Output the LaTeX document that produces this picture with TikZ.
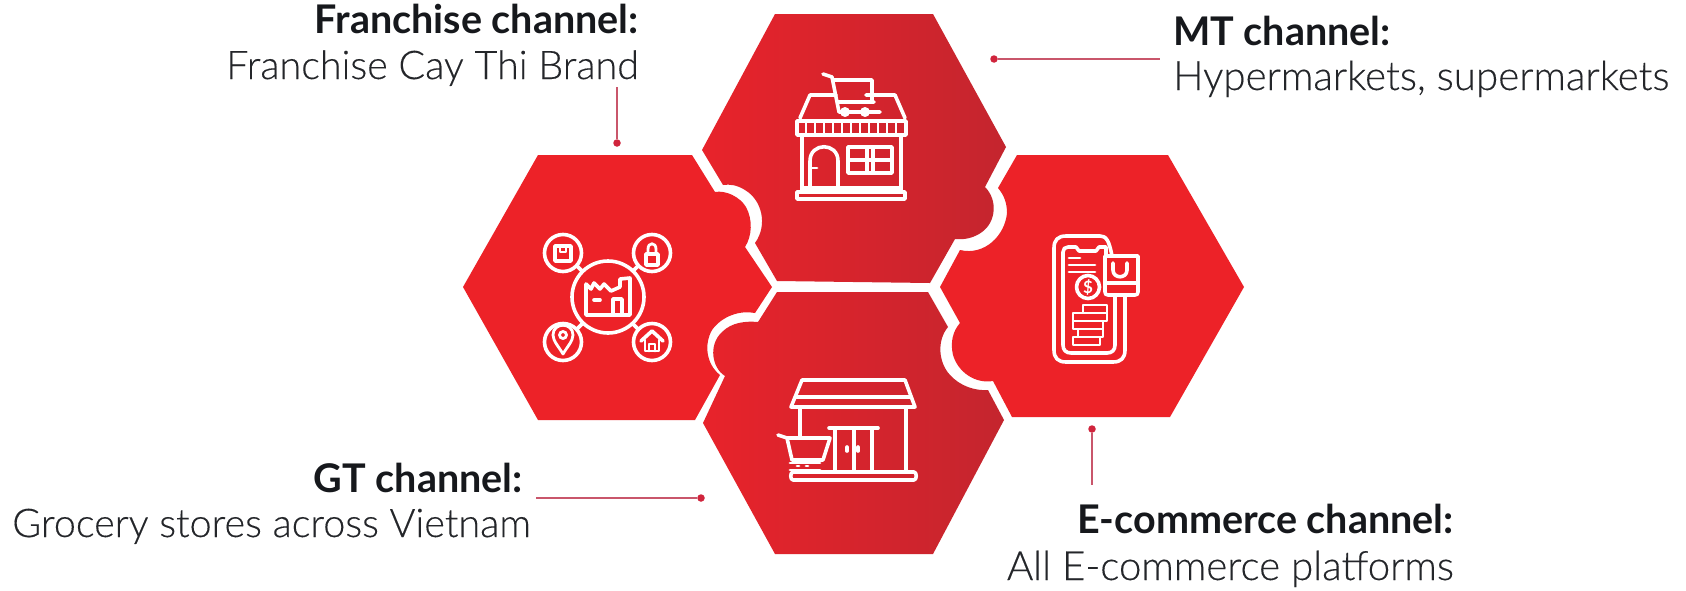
\documentclass[tikz,border=0pt]{standalone}
\usepackage{fontspec}
\setmainfont{Lato}
\newfontfamily\lightfont[FakeBold=0.25]{Lato Light}
\definecolor{hexred}{HTML}{ED2228}
\definecolor{gradl}{HTML}{E8232B}
\definecolor{gradr}{HTML}{C4252E}
\definecolor{leader}{HTML}{C9566B}
\definecolor{dotred}{HTML}{D0243C}
\definecolor{ink}{HTML}{16181C}
\definecolor{inkb}{HTML}{24262A}
\tikzset{
  flat/.style={fill=hexred},
  grad/.style={left color=gradl,right color=gradr,shading angle=90},
  ico/.style={draw=white,line width=3.6pt,line join=round,line cap=round,fill=none},
  icothin/.style={draw=white,line width=2.8pt,line join=round,line cap=round,fill=none},
  head/.style={font=\fontsize{39.5}{39.5}\selectfont\bfseries,text=ink,inner sep=0pt},
  body/.style={font=\fontsize{39.5}{39.5}\lightfont,text=inkb,inner sep=0pt},
  bodywide/.style={font=\fontsize{40.3}{40.3}\lightfont,text=inkb,inner sep=0pt},
  dotn/.style={circle,fill=dotred,minimum size=7.5pt,inner sep=0pt},
  lead/.style={draw=leader,line width=1.5pt}
}
\begin{document}
\begin{tikzpicture}[x=1pt,y=-1pt]
\useasboundingbox (0,0) rectangle (1686,590);
\fill[white] (0,0) rectangle (1686,590);

% top hexagon
\shade[grad] (775,14) -- (933,14) -- (1006,147) -- (985,187)
  .. controls (998,200) and (996,222) .. (982,232)
  .. controls (974,238) and (964,240) .. (955,239)
  -- (930,283) -- (777,281) -- (755,243)
  .. controls (768,225) and (762,200) .. (745,190)
  .. controls (737,185) and (730,184) .. (723,185)
  -- (702,150) -- cycle;
% bottom hexagon
\shade[grad] (777,292) -- (928,292) -- (948,327)
  .. controls (937,340) and (938,362) .. (950,375)
  .. controls (960,386) and (975,391) .. (988,390)
  -- (1004,420) -- (933,554) -- (775,554) -- (703,423) -- (725,376)
  .. controls (712,368) and (708,345) .. (722,332)
  .. controls (732,322) and (746,321) .. (758,322)
  -- cycle;
% left hexagon
\fill[flat] (538,155) -- (692,155) -- (715,192)
  .. controls (726,190) and (740,197) .. (746,207)
  .. controls (753,220) and (752,236) .. (745,247)
  -- (772,287) -- (755,313)
  .. controls (740,310) and (722,316) .. (712,330)
  .. controls (704,344) and (706,364) .. (720,375)
  -- (695,420) -- (538,420) -- (463,287) -- cycle;
% right hexagon
\fill[flat] (1017,155) -- (1168,155) -- (1244,287) -- (1170,417) -- (1012,417) -- (993,381)
  .. controls (975,384) and (958,372) .. (953,355)
  .. controls (950,342) and (953,331) .. (960,323)
  -- (940,287) -- (960,250)
  .. controls (985,256) and (1005,235) .. (1007,213)
  .. controls (1007,203) and (1004,195) .. (998,188)
  -- cycle;

% factory icon
\draw[ico] (608,297) circle (36);
\foreach \cx/\cy in {563/253,652/253,563/342,652/342}{\draw[ico] (\cx,\cy) circle (18.5);}
\draw[ico] (577,266) -- (582,271) (638,266) -- (633,271) (577,329) -- (582,324) (638,329) -- (633,324);
\draw[ico] (586,315) -- (586,284) -- (591,289) -- (594,283) -- (600,289) -- (604,284) -- (611,291) -- (620,287) -- (620,279) -- (630,278) -- (630,315) -- cycle;
\draw[ico] (594,300) -- (600,300) (613,315) -- (613,299) -- (622,299) -- (622,315);
\draw[ico] (555,246) -- (555,261) -- (571,261) -- (571,246) -- cycle;
\draw[icothin] (560,247) -- (560,252) -- (566,252) -- (566,247);
\draw[ico] (646,254) rectangle (658,265);
\draw[icothin] (648,254) -- (648,249) .. controls (648,242) and (656,242) .. (656,249) -- (656,254);
\draw[icothin] (563,354) .. controls (559,347) and (553,341) .. (553,335) .. controls (553,322) and (573,322) .. (573,335) .. controls (573,341) and (567,347) .. (563,354) -- cycle;
\draw[icothin] (563,335) circle (3.5);
\draw[ico] (641,341) -- (652,331) -- (663,341);
\draw[icothin] (645,340) -- (645,351) -- (659,351) -- (659,340) (649,351) -- (649,344) -- (655,344) -- (655,351);

% store icon (top)
\draw[ico] (800,118) -- (810,95) -- (836,95) (866,95) -- (895,95) -- (905,118);
\draw[ico] (797,121) -- (906,121) -- (906,135) -- (797,135) -- cycle;
\foreach \sx in {806,815,824,833,842,851,860,869,878,887,896}{\draw[icothin] (\sx,122) -- (\sx,134);}
\draw[ico] (802,135) -- (802,192) (901,135) -- (901,192);
\draw[ico] (797,192) rectangle (905,199) (802,188) -- (901,188);
\draw[ico] (810,188) -- (810,161) .. controls (810,142) and (838,142) .. (838,161) -- (838,188);
\draw[icothin] (811,168) -- (817,168);
\draw[ico] (848,147) rectangle (892,173) (848,160) -- (892,160) (867,147) -- (867,173) (873,147) -- (873,173);
\draw[ico] (823,74) -- (832,77) -- (839,112) -- (880,112) (833,80) -- (872,80) -- (872,102) (837,102) -- (874,102);
\draw[icothin] (845,112) circle (3.5) (865,112) circle (3.5);

% phone icon
\draw[ico] (1112,256) .. controls (1109,240) and (1106,236) .. (1100,236) -- (1066,236) .. controls (1058,236) and (1054,240) .. (1054,248) -- (1054,350) .. controls (1054,358) and (1058,362) .. (1066,362) -- (1113,362) .. controls (1121,362) and (1125,358) .. (1125,350) -- (1125,295);
\draw[ico] (1115,295) -- (1115,345) .. controls (1115,350) and (1112,353) .. (1107,353) -- (1071,353) .. controls (1066,353) and (1063,350) .. (1063,345) -- (1063,252) .. controls (1063,249) and (1065,247) .. (1068,247) -- (1076,247) -- (1079,251) -- (1096,251) -- (1099,247) -- (1106,247) -- (1106,256);
\draw[ico] (1105,256) -- (1138,256) -- (1138,292) .. controls (1138,294) and (1137,295) .. (1135,295) -- (1108,295) .. controls (1106,295) and (1105,294) .. (1105,292) -- cycle (1105,283) -- (1138,283);
\draw[ico] (1113,263) -- (1113,270) .. controls (1113,279) and (1127,279) .. (1127,270) -- (1127,263);
\draw[icothin] (1069,258) -- (1080,258) (1069,265) -- (1095,265) (1069,272) -- (1095,272);
\draw[ico] (1088,287) circle (11.5);
\node[font=\fontsize{17}{17}\selectfont\bfseries,text=white,inner sep=0pt] (dollar) at (1088,287) {\$};
\draw[icothin] (1083,305) rectangle (1107,313) (1073,313) rectangle (1107,321) (1073,321) rectangle (1103,329) (1078,329) rectangle (1103,337) (1073,337) rectangle (1100,345);

% grocery icon (bottom)
\draw[ico] (802,380) -- (905,380) -- (915,407) -- (791,407) -- cycle (795,397) -- (911,397);
\draw[ico] (800,407) -- (800,437) (906,407) -- (906,472);
\draw[ico] (793,472) -- (914,472) .. controls (917,472) and (917,480) .. (914,480) -- (793,480) .. controls (790,480) and (790,472) .. (793,472) -- cycle;
\draw[ico] (829,428) -- (878,428) (835,428) -- (835,472) (854,428) -- (854,472) (872,428) -- (872,472);
\draw[ico] (847,447) -- (847,451) (858,447) -- (858,451);
\draw[ico] (778,435) -- (787,438) -- (830,438) -- (823,460) -- (792,460) -- (787,438);
\draw[icothin] (790,463) -- (820,463) (790,470) -- (820,470) (797,466) -- (799,466) (806,466) -- (808,466);

% labels
\node[head,anchor=base east] (fh) at (639,33) {Franchise channel:};
\node[body,anchor=base east] (fb) at (639,79) {Franchise Cay Thi Brand};
\node[head,anchor=base west] (mh) at (1173,45) {MT channel:};
\node[bodywide,anchor=base west] (mb) at (1173,90) {Hypermarkets, supermarkets};
\node[head,anchor=base east] (gh) at (523,492) {GT channel:};
\node[body,anchor=base east] (gb) at (531,537) {Grocery stores across Vietnam};
\node[head,anchor=base east] (eh) at (1454,533) {E-commerce channel:};
\node[bodywide,anchor=base east] (eb) at (1454,580) {All E-commerce platforms};

% leaders
\node[dotn] (fd) at (617,143) {};
\node[dotn] (md) at (994,59) {};
\node[dotn] (gd) at (701,498) {};
\node[dotn] (ed) at (1092,429) {};
\coordinate (fe) at (617,87);
\coordinate (me) at (1160,59);
\coordinate (ge) at (536,498);
\coordinate (ee) at (1092,485);
\draw[lead] (fd) -- (fe);
\draw[lead] (md) -- (me);
\draw[lead] (gd) -- (ge);
\draw[lead] (ed) -- (ee);
\end{tikzpicture}
\end{document}
